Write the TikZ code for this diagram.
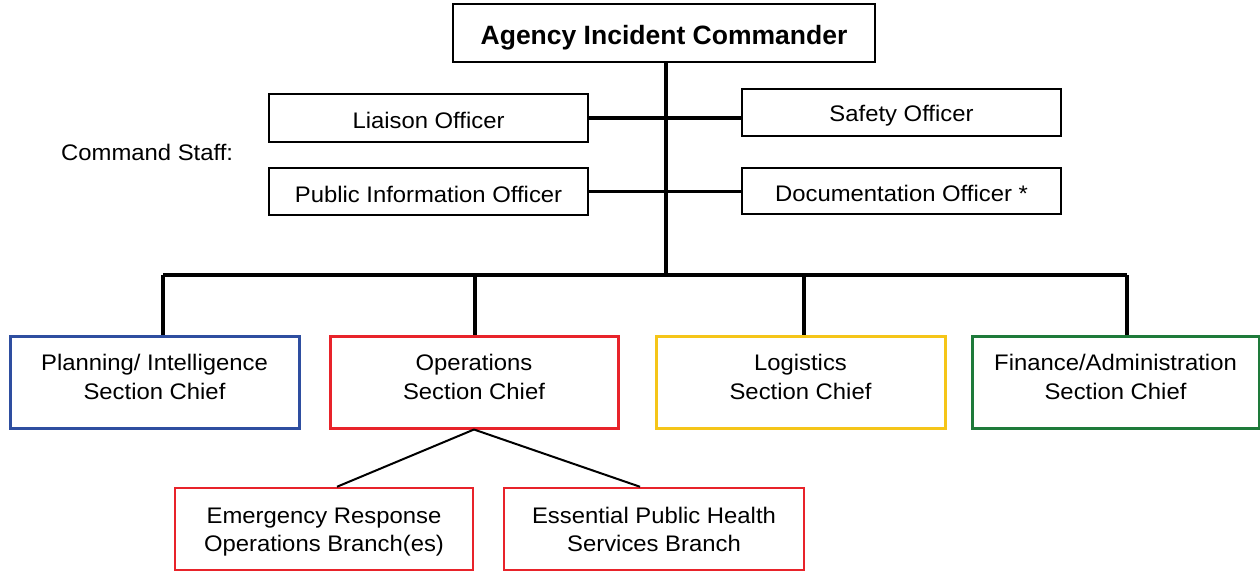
\documentclass[tikz,border=0pt]{standalone}
\usepackage{fontspec}
\setmainfont{Liberation Sans}[FakeStretch=1.06]
\newfontfamily\plainsans{Liberation Sans}
\definecolor{planblue}{RGB}{46,78,160}
\definecolor{opsred}{RGB}{232,35,42}
\definecolor{logyellow}{RGB}{245,197,24}
\definecolor{fingreen}{RGB}{30,122,58}
\begin{document}
\begin{tikzpicture}[x=1pt,y=-1pt,
  every node/.style={font=\fontsize{22.5}{28}\selectfont, inner sep=0pt, align=center},
  tpos/.style={text height=#1, text depth=0pt},
  staffbox/.style={draw=black, line width=2pt, minimum width=319pt, minimum height=47pt},
  secbox/.style={line width=3pt, minimum width=288pt, minimum height=92pt},
  sectext/.style={font=\fontsize{22.5}{29}\selectfont},
  branchbox/.style={draw=opsred, line width=2.5pt, minimum height=82pt},
  conn/.style={line width=3.5pt},
  thinconn/.style={line width=2pt}]
\useasboundingbox (0,0) rectangle (1260,571);

% top
\node[draw=black, line width=2pt, minimum width=422pt, minimum height=58pt, tpos=23pt,
      font=\plainsans\fontsize{26.5}{30}\selectfont\bfseries] (cmd) at (664,33) {Agency Incident Commander};

% command staff
\node[anchor=base west] (cs) at (61,160) {Command Staff:};
\node[staffbox, minimum height=48pt, tpos=21pt] (lia) at (428.5,118) {Liaison Officer};
\node[staffbox, tpos=22pt] (pio) at (428.5,191.5) {Public Information Officer};
\node[staffbox, tpos=18.5pt] (saf) at (901.5,112.5) {Safety Officer};
\node[staffbox, minimum height=46pt, tpos=21pt] (doc) at (901.5,191) {Documentation Officer *};

% sections
\node[secbox, draw=planblue, minimum width=289pt] (plan) at (154.5,382) {};
\node[secbox, draw=opsred] (ops) at (474,382) {};
\node[secbox, draw=logyellow, minimum width=289pt] (log) at (800.5,382) {};
\node[secbox, draw=fingreen, minimum width=287pt] (fin) at (1115.5,382) {};
\node[sectext] (plant) at ([yshift=3.3pt]plan.center) {\strut Planning/ Intelligence\\\strut Section Chief};
\node[sectext] (opst) at ([yshift=3.3pt]ops.center) {\strut Operations\\\strut Section Chief};
\node[sectext] (logt) at ([yshift=3.3pt]log.center) {\strut Logistics\\\strut Section Chief};
\node[sectext] (fint) at ([yshift=3.3pt]fin.center) {\strut Finance/Administration\\\strut Section Chief};

% branches
\node[branchbox, minimum width=298pt] (er) at (324,529) {};
\node[branchbox, minimum width=300pt] (eph) at (654,529) {};
\node (ert) at ([yshift=-2.9pt]er.center) {\strut Emergency Response\\\strut Operations Branch(es)};
\node (epht) at ([yshift=-2.9pt]eph.center) {\strut Essential Public Health\\\strut Services Branch};

% connectors
\coordinate (spine) at (666,275);
\coordinate (b1) at (163,275);
\coordinate (b2) at (475,275);
\coordinate (b3) at (804,275);
\coordinate (b4) at (1127,275);

\draw[conn] (cmd.south -| spine) -- (spine);
\draw[conn] (lia.east) -- (saf.west |- lia.east);
\draw[conn] (pio.east) -- (doc.west |- pio.east);
\draw[conn] (b1) -- (b4);
\draw[conn] (b1) -- (b1 |- plan.north);
\draw[conn] (b2) -- (b2 |- ops.north);
\draw[conn] (b3) -- (b3 |- log.north);
\draw[conn] (b4) -- (b4 |- fin.north);

\draw[thinconn] (ops.south) -- ([xshift=13pt]er.north);
\draw[thinconn] (ops.south) -- ([xshift=-14pt]eph.north);
\end{tikzpicture}
\end{document}
